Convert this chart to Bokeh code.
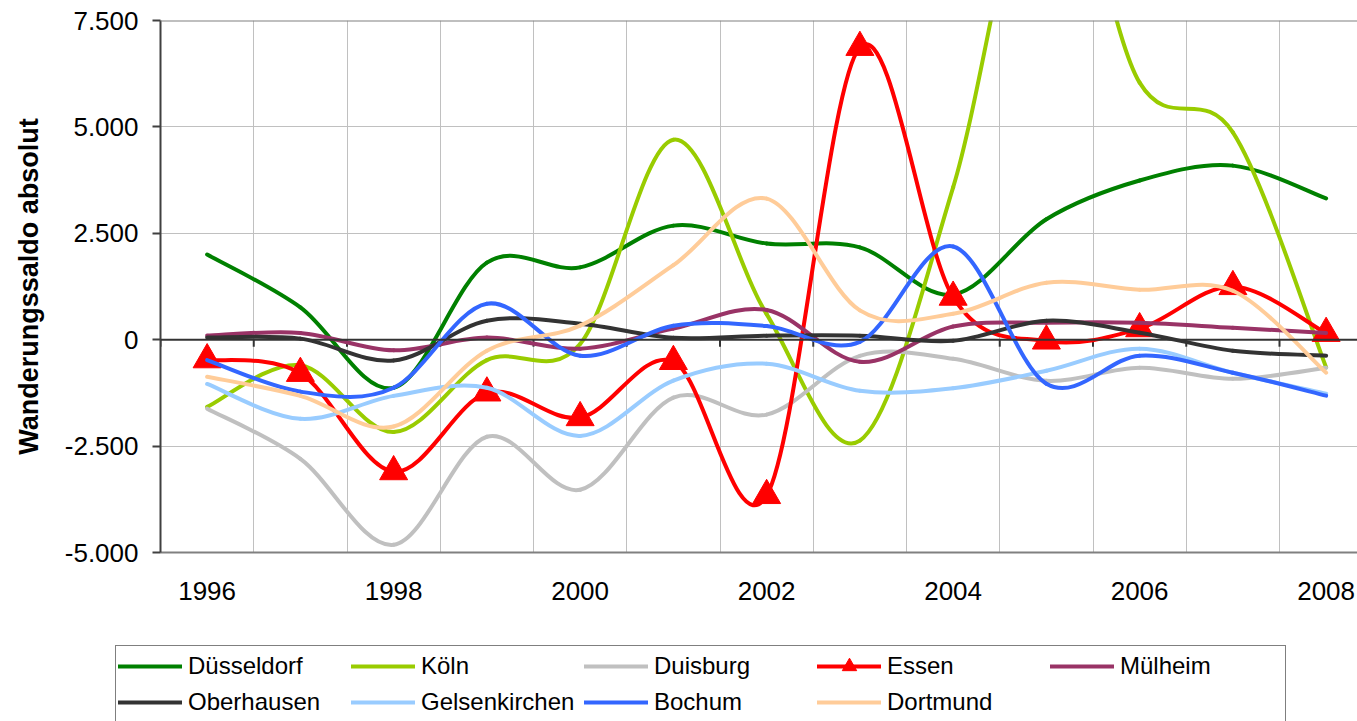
import math
from bokeh.plotting import figure
from bokeh.layouts import column
from bokeh.models import Range1d, FixedTicker, Span, Legend, LegendItem, ColumnDataSource
from bokeh.embed import file_html
from bokeh.resources import INLINE

# ---------------- data ----------------
years = [1996, 1997, 1998, 1999, 2000, 2001, 2002, 2003, 2004, 2005, 2006, 2007, 2008]

duesseldorf   = [2000, 760, -1130, 1810, 1700, 2680, 2260, 2170, 1060, 2830, 3740, 4090, 3320]
koeln         = [-1580, -600, -2170, -480, -100, 4700, 600, -2370, 3580, 12000, 6040, 4870, -650]
duisburg      = [-1620, -2800, -4820, -2280, -3525, -1360, -1760, -380, -450, -965, -660, -920, -660]
essen         = [-470, -790, -3100, -1250, -1830, -510, -3660, 6870, 1000, -30, 260, 1250, 150]
muelheim      = [100, 160, -250, 50, -210, 260, 700, -520, 310, 400, 400, 280, 160]
oberhausen    = [50, 25, -490, 445, 375, 45, 95, 95, -25, 445, 165, -260, -375]
gelsenkirchen = [-1040, -1860, -1320, -1130, -2260, -960, -565, -1200, -1140, -730, -210, -775, -1270]
bochum        = [-480, -1220, -1130, 845, -375, 330, 320, -50, 2190, -1035, -375, -775, -1315]
dortmund      = [-870, -1320, -2040, -260, 330, 1750, 3315, 690, 610, 1340, 1175, 1150, -775]

series_names = ["Düsseldorf", "Köln", "Duisburg", "Essen", "Mülheim",
                "Oberhausen", "Gelsenkirchen", "Bochum", "Dortmund"]
series_values = [duesseldorf, koeln, duisburg, essen, muelheim,
                 oberhausen, gelsenkirchen, bochum, dortmund]
series_colors = ["#008000", "#99CC00", "#C0C0C0", "#FF0000", "#993366",
                 "#333333", "#99CCFF", "#3366FF", "#FFCC99"]

x_tick_labels_years = [1996, 1998, 2000, 2002, 2004, 2006, 2008]
y_ticks = [-5000, -2500, 0, 2500, 5000, 7500]
y_tick_labels = ["-5.000", "-2.500", "0", "2.500", "5.000", "7.500"]

# ---------------- layout ----------------
W = 1357
H1 = 640          # main chart
H2 = 721 - H1     # legend strip
FRAME_L, FRAME_T, FRAME_B = 160, 20, 552
X0 = 1995.5
PX_PER_YEAR = 93.25
X1 = X0 + (W - FRAME_L) / PX_PER_YEAR
Y0, Y1 = -5000, 7500
PX_PER_UNIT = (FRAME_B - FRAME_T) / (Y1 - Y0)
FONT = "Liberation Sans"

p = figure(width=W, height=H1, x_range=Range1d(X0, X1), y_range=Range1d(Y0, Y1),
           output_backend="svg", toolbar_location=None,
           min_border_left=FRAME_L, min_border_right=0, min_border_top=FRAME_T,
           min_border_bottom=H1 - FRAME_B)
p.frame_align = False
p.outline_line_color = None
p.background_fill_color = "white"
p.border_fill_color = "white"

# grid
half_years = [X0 + k for k in range(0, 14)]
p.xgrid.ticker = FixedTicker(ticks=half_years)
p.xgrid.grid_line_color = "#C0C0C0"
p.xgrid.grid_line_width = 1
p.ygrid.ticker = FixedTicker(ticks=y_ticks)
p.ygrid.grid_line_color = "#C0C0C0"
p.ygrid.grid_line_width = 1

# x axis (bottom border + labels)
p.xaxis.ticker = FixedTicker(ticks=x_tick_labels_years)
p.xaxis.major_tick_out = 0
p.xaxis.major_tick_in = 0
p.xaxis.minor_tick_line_color = None
p.xaxis.axis_line_color = "#808080"
p.xaxis.axis_line_width = 2
p.xaxis.major_label_text_font = FONT
p.xaxis.major_label_text_font_size = "26px"
p.xaxis.major_label_text_color = "black"
p.xaxis.major_label_standoff = 29

# y axis
p.yaxis.ticker = FixedTicker(ticks=y_ticks)
p.yaxis.major_label_overrides = {t: s for t, s in zip(y_ticks, y_tick_labels)}
p.yaxis.major_tick_out = 8
p.yaxis.major_tick_in = 0
p.yaxis.major_tick_line_color = "#404040"
p.yaxis.major_tick_line_width = 2
p.yaxis.minor_tick_line_color = None
p.yaxis.axis_line_color = "#404040"
p.yaxis.axis_line_width = 2
p.yaxis.major_label_text_font = FONT
p.yaxis.major_label_text_font_size = "26px"
p.yaxis.major_label_text_color = "black"
p.yaxis.major_label_standoff = 14
p.yaxis.axis_label = "Wanderungssaldo absolut"
p.yaxis.axis_label_text_font = FONT
p.yaxis.axis_label_text_font_size = "27px"
p.yaxis.axis_label_text_font_style = "bold"
p.yaxis.axis_label_text_color = "black"
p.yaxis.axis_label_standoff = 18

# top border
p.add_layout(Span(location=Y1, dimension="width", line_color="#808080", line_width=2))
# zero line with downward tick marks
p.add_layout(Span(location=0, dimension="width", line_color="#333333", line_width=2))
tick_len = 7 / PX_PER_UNIT
p.segment(x0=half_years, y0=[0] * len(half_years), x1=half_years,
          y1=[-tick_len] * len(half_years), line_color="#333333", line_width=2)


def smooth_segments(xs, ys):
    """Bezier control points like a spreadsheet 'smoothed line' (computed in pixel space)."""
    px = [x * PX_PER_YEAR for x in xs]
    py = [y * PX_PER_UNIT for y in ys]
    n = len(xs)
    d = {k: [] for k in ("x0", "y0", "x1", "y1", "cx0", "cy0", "cx1", "cy1")}
    for i in range(n - 1):
        i0, i3 = max(i - 1, 0), min(i + 2, n - 1)
        d01 = math.hypot(px[i] - px[i0], py[i] - py[i0])
        d12 = math.hypot(px[i + 1] - px[i], py[i + 1] - py[i])
        d23 = math.hypot(px[i3] - px[i + 1], py[i3] - py[i + 1])
        f1 = 1 / 6 if d01 / 6 < d12 / 2 else d12 / 2 / d01
        f2 = 1 / 6 if d23 / 6 < d12 / 2 else d12 / 2 / d23
        d["x0"].append(xs[i]); d["y0"].append(ys[i])
        d["x1"].append(xs[i + 1]); d["y1"].append(ys[i + 1])
        d["cx0"].append(xs[i] + f1 * (xs[i + 1] - xs[i0]))
        d["cy0"].append(ys[i] + f1 * (ys[i + 1] - ys[i0]))
        d["cx1"].append(xs[i + 1] - f2 * (xs[i3] - xs[i]))
        d["cy1"].append(ys[i + 1] - f2 * (ys[i3] - ys[i]))
    return ColumnDataSource(d)


for name, vals, col in zip(series_names, series_values, series_colors):
    src = smooth_segments(years, vals)
    p.bezier(x0="x0", y0="y0", x1="x1", y1="y1", cx0="cx0", cy0="cy0",
             cx1="cx1", cy1="cy1", source=src, line_color=col, line_width=4,
             line_cap="round", line_join="round")
    if name == "Essen":
        p.scatter(years, vals, marker="triangle", size=28,
                  fill_color=col, line_color=col)

# ---------------- legend strip ----------------
pl = figure(width=W, height=H2, x_range=Range1d(0, 1), y_range=Range1d(0, 1),
            output_backend="svg", toolbar_location=None,
            x_axis_location=None, y_axis_location=None, min_border=0)
pl.frame_align = False
pl.outline_line_color = None
pl.grid.visible = False
pl.background_fill_color = "white"
pl.border_fill_color = "white"

items = []
for name, vals, col in zip(series_names, series_values, series_colors):
    # legend proxies (hidden) carrying the series' styles
    rs = [pl.line(x=years, y=vals, line_color=col, line_width=4, line_cap="round",
                  visible=False)]
    if name == "Essen":
        rs.append(pl.scatter(x=years, y=vals, marker="triangle", size=28,
                             fill_color=col, line_color=col, visible=False))
    items.append(LegendItem(label=name, renderers=rs))

LEG_TOP = 647 - H1           # legend top inside strip
LEG_H = 2 + 2 * 36 + 2
legend = Legend(items=items, orientation="horizontal", ncols=5,
                location=(115, H2 - LEG_TOP - LEG_H), padding=2, spacing=0, margin=0,
                glyph_width=64, glyph_height=36, label_standoff=6, label_width=163,
                label_text_font=FONT, label_text_font_size="24px",
                label_text_color="black",
                border_line_color="black", border_line_width=1,
                background_fill_color="white", background_fill_alpha=1.0)
pl.add_layout(legend)

open("out.html", "w").write(file_html(column(p, pl), INLINE))
